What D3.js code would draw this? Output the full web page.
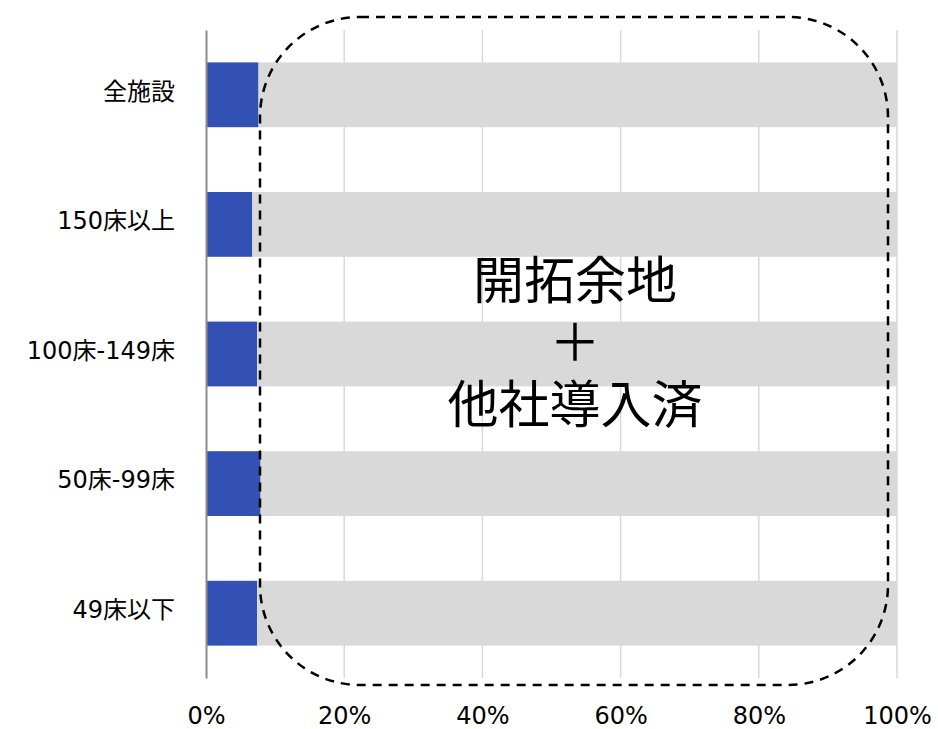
<!DOCTYPE html>
<html>
<head>
<meta charset="utf-8">
<script src="https://cdn.jsdelivr.net/npm/d3@7"></script>
<style>
  body { margin: 0; background: #fff; }
  text { font-family: "DejaVu Sans", "Noto Sans CJK JP", sans-serif; fill: #000; }
</style>
</head>
<body>
<svg></svg>
<script>
// Data
const categories = ['全施設', '150床以上', '100床-149床', '50床-99床', '49床以下']
const adopted = [7.6, 6.7, 7.4, 7.9, 7.4]
const remaining = adopted.map(v => 100 - v)
const xTicks = [0, 20, 40, 60, 80, 100]
const noteLines = ['開拓余地', '＋', '他社導入済']

const width = 938
const height = 729
const plotLeft = 206, plotRight = 897, plotTop = 30, plotBottom = 678

const svg = d3.select('svg')
    .attr('width', width)
    .attr('height', height)

const xScale = d3.scaleLinear().domain([0, 100]).range([plotLeft, plotRight])
const yScale = d3.scaleBand().domain(categories).range([plotTop, plotBottom]).paddingInner(0.5).paddingOuter(0.25)

// gridlines
svg.append('g')
    .selectAll('line')
    .data(xTicks.filter(d => d > 0))
    .enter()
    .append('line')
    .attr('x1', d => xScale(d))
    .attr('x2', d => xScale(d))
    .attr('y1', plotTop)
    .attr('y2', plotBottom)
    .attr('stroke', '#d9d9d9')
    .attr('stroke-width', 1.5)

// stacked bars
const rows = categories.map((c, i) => ({ cat: c, a: adopted[i], r: remaining[i] }))
svg.append('g')
    .selectAll('rect')
    .data(rows)
    .enter()
    .append('rect')
    .attr('x', xScale(0))
    .attr('y', d => yScale(d.cat))
    .attr('width', d => xScale(d.a) - xScale(0))
    .attr('height', yScale.bandwidth())
    .attr('fill', '#3350b4')

svg.append('g')
    .selectAll('rect')
    .data(rows)
    .enter()
    .append('rect')
    .attr('x', d => xScale(d.a))
    .attr('y', d => yScale(d.cat))
    .attr('width', d => xScale(d.a + d.r) - xScale(d.a))
    .attr('height', yScale.bandwidth())
    .attr('fill', '#d9d9d9')

// y axis
const yAxis = d3.axisLeft(yScale).tickSize(0).tickPadding(31)
const yg = svg.append('g')
    .attr('transform', 'translate(' + plotLeft + ',0)')
    .call(yAxis)
yg.select('.domain').attr('stroke', '#8c8c8c').attr('stroke-width', 2)
yg.selectAll('text').style('font-size', '24px').attr('fill', '#000').attr('dy', '0.2em')

// x axis
const xAxis = d3.axisBottom(xScale).tickValues(xTicks).tickSize(0).tickPadding(29)
    .tickFormat(d => d + '%')
const xg = svg.append('g')
    .attr('transform', 'translate(0,' + plotBottom + ')')
    .call(xAxis)
xg.select('.domain').remove()
xg.selectAll('text').style('font-size', '24px').attr('fill', '#000')

// dashed rounded box
svg.append('rect')
    .attr('x', 260)
    .attr('y', 17)
    .attr('width', 628)
    .attr('height', 668)
    .attr('rx', 100)
    .attr('ry', 100)
    .attr('fill', 'none')
    .attr('stroke', '#000')
    .attr('stroke-width', 2.5)
    .attr('stroke-dasharray', '9,7')

// note text (one block, three lines)
svg.append('text')
    .attr('text-anchor', 'middle')
    .style('font-size', '51px')
    .selectAll('tspan')
    .data(noteLines)
    .enter()
    .append('tspan')
    .attr('x', 575)
    .attr('y', (d, i) => 299 + i * 62)
    .text(d => d)
</script>
</body>
</html>
